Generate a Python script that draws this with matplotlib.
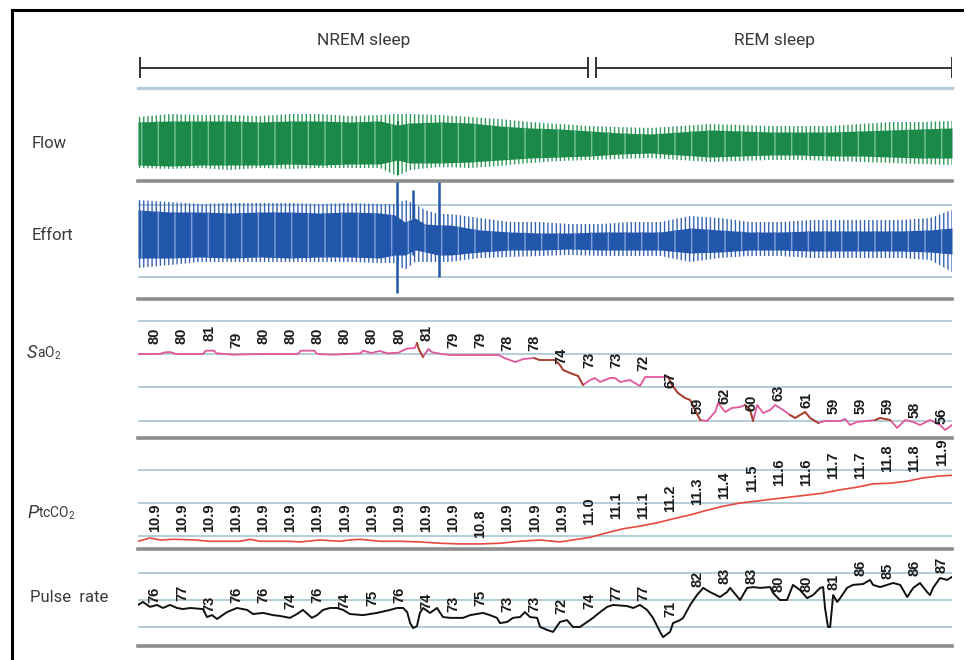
import numpy as np
import matplotlib
matplotlib.use("Agg")
import matplotlib.pyplot as plt
from matplotlib.offsetbox import TextArea, HPacker, AnnotationBbox

# ---------------- data (time in minutes, 0..30) ----------------
stage_names = ["NREM sleep", "REM sleep"]
stage_start = [0.07, 16.88]
stage_end = [16.59, 30.0]

epoch_offset = 0.62  # label times = epoch index + offset

sao2_labels = [80, 80, 81, 79, 80, 80, 80, 80, 80, 80, 81, 79, 79, 78, 78,
               74, 73, 73, 72, 67, 59, 62, 60, 63, 61, 59, 59, 59, 58, 56]
ptcco2_labels = [10.9, 10.9, 10.9, 10.9, 10.9, 10.9, 10.9, 10.9, 10.9, 10.9,
                 10.9, 10.9, 10.8, 10.9, 10.9, 10.9, 11.0, 11.1, 11.1, 11.2,
                 11.3, 11.4, 11.5, 11.6, 11.6, 11.7, 11.7, 11.8, 11.8, 11.9]
pulse_labels = [76, 77, 73, 76, 76, 74, 76, 74, 75, 76, 74, 73, 75, 73, 73,
                72, 74, 77, 77, 71, 82, 83, 83, 80, 80, 81, 86, 85, 86, 87]

sao2_t = [0.00, 0.80, 1.00, 1.18, 1.40, 2.40, 2.50, 2.80, 2.90, 3.50, 4.50, 5.90,
          6.00, 6.50, 6.60, 7.20, 8.20, 8.30, 8.60, 8.90, 9.20, 9.60, 9.90, 10.20,
          10.28, 10.35, 10.50, 10.70, 10.85, 11.20, 11.50, 13.30, 13.50, 13.90,
          14.20, 14.60, 14.80, 15.37, 15.55, 15.67, 15.92, 16.22, 16.40, 16.66,
          16.84, 17.03, 17.21, 17.40, 17.58, 17.77, 18.13, 18.50, 18.69, 19.06,
          19.54, 19.68, 19.90, 20.16, 20.35, 20.53, 20.72, 20.97, 21.27, 21.38,
          21.64, 21.89, 22.19, 22.37, 22.56, 22.67, 22.82, 23.04, 23.30, 23.48,
          23.78, 24.03, 24.22, 24.40, 24.59, 24.77, 25.07, 25.32, 25.88, 26.06,
          26.24, 26.50, 27.17, 27.35, 27.72, 27.98, 28.27, 28.57, 28.82, 29.19,
          29.56, 29.75, 30.00]
sao2_v = [80.0, 80.0, 80.5, 80.6, 80.0, 80.0, 81.0, 81.0, 80.2, 79.8, 80.0, 80.0,
          81.0, 81.0, 80.0, 79.8, 80.2, 81.0, 80.3, 80.9, 80.2, 80.4, 81.6, 81.8,
          83.3, 81.5, 79.1, 81.5, 80.5, 80.0, 79.7, 79.7, 78.8, 77.6,
          78.5, 78.8, 78.2, 78.2, 76.7, 75.2, 74.3, 73.4, 70.7, 72.2,
          72.8, 71.6, 72.2, 72.8, 72.8, 71.6, 72.2, 70.4, 73.1, 73.1,
          73.1, 70.7, 68.3, 66.8, 66.2, 63.2, 60.2, 59.9, 62.6, 65.3,
          62.6, 63.8, 64.1, 64.7, 63.2, 59.9, 64.7, 62.3, 63.2, 64.7,
          63.2, 61.7, 60.8, 61.7, 62.6, 60.8, 59.3, 59.9, 59.9, 60.5,
          58.7, 59.6, 60.2, 60.8, 60.2, 57.8, 60.2, 59.6, 58.7, 60.2,
          58.7, 57.2, 58.7]
sao2_falling = [(10.25, 10.6), (14.4, 16.5), (19.5, 20.8), (22.3, 22.7),
                (23.9, 25.1), (26.9, 27.9)]

ptcco2_t = [0.00, 0.44, 0.81, 1.36, 2.10, 2.65, 3.76, 4.13, 4.50, 5.60, 5.97,
            6.71, 7.44, 7.81, 8.18, 8.92, 9.66, 10.39, 11.13, 11.87, 12.61,
            13.34, 14.08, 14.82, 15.55, 16.03, 16.66, 17.29, 17.88, 18.50,
            19.13, 19.72, 20.35, 20.97, 21.56, 22.19, 22.82, 23.41, 24.03,
            24.66, 25.25, 25.88, 26.50, 27.09, 27.72, 28.34, 28.93, 29.56, 30.00]
ptcco2_v = [10.92, 10.97, 10.94, 10.95, 10.94, 10.92, 10.92, 10.95, 10.92, 10.92,
            10.91, 10.94, 10.92, 10.94, 10.95, 10.92, 10.92, 10.91, 10.89, 10.88,
            10.88, 10.89, 10.92, 10.94, 10.91, 10.94, 10.98, 11.05, 11.11, 11.15,
            11.20, 11.26, 11.32, 11.39, 11.45, 11.50, 11.53, 11.56, 11.59,
            11.62, 11.65, 11.70, 11.74, 11.79, 11.80, 11.83, 11.88, 11.91, 11.92]

pulse_t = [0.00, 0.18, 0.44, 0.70, 0.92, 1.18, 1.44, 1.66, 1.92, 2.40, 2.54, 2.73,
           2.91, 3.28, 3.65, 4.02, 4.24, 4.61, 4.98, 5.23, 5.60, 5.86, 6.08, 6.41,
           6.60, 6.82, 7.08, 7.33, 7.56, 7.81, 8.29, 8.81, 9.29, 9.55, 9.77, 9.92,
           10.03, 10.14, 10.28, 10.39, 10.51, 10.76, 11.02, 11.24, 11.50, 11.98,
           12.24, 12.72, 12.97, 13.23, 13.34, 13.60, 13.82, 14.08, 14.26, 14.45,
           14.71, 14.82, 15.08, 15.30, 15.55, 15.81, 16.03, 16.29, 16.55, 16.77,
           17.03, 17.29, 17.51, 18.02, 18.25, 18.50, 18.76, 18.98, 19.24, 19.35,
           19.61, 19.72, 19.98, 20.09, 20.35, 20.60, 20.83, 21.08, 21.45, 21.71,
           21.82, 22.19, 22.45, 22.67, 22.93, 23.30, 23.41, 23.66, 23.92, 24.14,
           24.29, 24.40, 24.66, 24.88, 25.14, 25.25, 25.32, 25.43, 25.51, 25.62,
           25.77, 25.88, 26.13, 26.35, 26.72, 26.98, 27.09, 27.35, 27.61, 27.83,
           28.09, 28.35, 28.57, 28.82, 29.08, 29.19, 29.30, 29.56, 29.82, 30.00]
pulse_v = [78.2, 79.3, 77.5, 78.2, 77.1, 78.2, 77.1, 76.7, 77.1, 76.7, 73.8, 74.5,
           73.1, 75.6, 77.1, 76.4, 74.9, 75.3, 74.5, 74.2, 73.5, 74.9, 76.4, 73.5,
           74.5, 76.4, 77.1, 77.1, 76.4, 74.9, 74.5, 75.3, 76.4, 77.1, 77.1, 75.6,
           71.6, 69.8, 70.5, 75.3, 77.1, 75.3, 77.1, 73.8, 73.5, 73.5,
           74.5, 75.3, 74.5, 73.5, 71.6, 72.0, 73.5, 73.8, 75.6, 73.8,
           73.5, 70.2, 69.1, 68.4, 72.0, 72.7, 70.2, 70.2, 72.0, 73.5,
           75.6, 77.5, 78.2, 77.8, 77.1, 78.2, 76.4, 73.5, 68.4, 66.5,
           68.4, 71.6, 72.7, 73.5, 78.2, 81.8, 84.4, 82.9, 81.1, 82.9,
           84.4, 80.0, 84.4, 84.7, 84.4, 84.7, 82.5, 80.0, 80.0, 85.5,
           84.4, 83.6, 80.7, 81.8, 84.4, 84.7, 77.1, 70.2, 70.2, 81.8,
           79.3, 80.7, 84.4, 85.5, 85.8, 87.3, 85.5, 84.7, 85.5, 86.2,
           85.5, 81.1, 84.4, 86.2, 82.9, 81.8, 84.4, 88.0, 87.3, 88.4]

# Flow / Effort envelopes (arbitrary units, 0 = baseline)
flow_t = [0.00, 1.18, 2.29, 3.39, 4.50, 5.60, 6.71, 7.81, 8.92, 9.55, 10.03,
          11.13, 12.24, 13.34, 14.45, 15.55, 16.66, 17.77, 18.87, 19.98, 21.08,
          22.19, 23.30, 24.40, 25.51, 26.61, 27.72, 28.82, 30.00]
flow_core_hi = [0.84, 0.88, 0.88, 0.88, 0.84, 0.88, 0.88, 0.84, 0.88, 0.72, 0.80,
                0.84, 0.80, 0.68, 0.60, 0.56, 0.48, 0.40, 0.36, 0.44, 0.52,
                0.48, 0.44, 0.44, 0.44, 0.48, 0.52, 0.56, 0.60]
flow_core_lo = [-0.88, -0.92, -0.88, -0.88, -0.88, -0.84, -0.88, -0.84, -0.84, -0.68, -0.80,
                -0.80, -0.76, -0.68, -0.60, -0.56, -0.52, -0.44, -0.40, -0.48, -0.56,
                -0.52, -0.48, -0.48, -0.52, -0.52, -0.56, -0.60, -0.60]
flow_peak_hi = [1.04, 1.16, 1.12, 1.12, 1.08, 1.16, 1.16, 1.08, 1.12, 1.16, 1.16,
                1.12, 1.04, 0.96, 0.84, 0.76, 0.68, 0.64, 0.60, 0.68, 0.76,
                0.72, 0.68, 0.68, 0.68, 0.76, 0.84, 0.84, 0.88]
flow_peak_lo = [-1.00, -1.04, -1.00, -1.08, -1.00, -1.04, -1.00, -1.00, -1.00, -1.32, -1.08,
                -0.96, -1.00, -0.92, -0.80, -0.72, -0.68, -0.64, -0.60, -0.68, -0.76,
                -0.72, -0.68, -0.68, -0.72, -0.76, -0.80, -0.84, -0.88]

effort_t = [0.00, 1.18, 2.29, 3.39, 4.50, 5.60, 6.71, 7.81, 8.92, 9.47, 9.84,
            10.21, 10.58, 11.06, 11.50, 12.61, 13.71, 14.82, 15.92, 17.03, 18.13,
            19.24, 20.35, 21.45, 22.56, 23.66, 24.77, 25.88, 26.98, 28.09, 29.19, 30.00]
effort_core_hi = [1.20, 1.12, 1.12, 1.08, 1.12, 1.12, 1.08, 1.12, 1.08, 1.00, 0.72,
                  0.88, 0.64, 0.60, 0.60, 0.40, 0.32, 0.28, 0.28, 0.32, 0.32,
                  0.32, 0.48, 0.40, 0.32, 0.32, 0.36, 0.36, 0.36, 0.36, 0.40, 0.48]
effort_core_lo = [-0.72, -0.72, -0.68, -0.72, -0.68, -0.72, -0.68, -0.68, -0.72, -0.60, -0.60,
                  -0.40, -0.48, -0.60, -0.60, -0.48, -0.40, -0.40, -0.36, -0.40, -0.40,
                  -0.40, -0.52, -0.48, -0.40, -0.40, -0.44, -0.44, -0.44, -0.44, -0.48, -0.56]
effort_peak_hi = [1.60, 1.52, 1.44, 1.48, 1.48, 1.48, 1.44, 1.48, 1.44, 1.44, 1.60,
                  1.44, 1.20, 1.04, 1.04, 0.88, 0.72, 0.72, 0.64, 0.64, 0.72,
                  0.72, 0.96, 0.88, 0.72, 0.72, 0.80, 0.80, 0.80, 0.80, 0.88, 1.20]
effort_peak_lo = [-1.12, -1.00, -0.88, -0.88, -0.88, -0.88, -0.88, -0.88, -0.92, -0.92, -1.20,
                  -0.88, -0.88, -0.88, -0.88, -0.72, -0.68, -0.64, -0.60, -0.64, -0.64,
                  -0.64, -0.88, -0.72, -0.64, -0.64, -0.72, -0.72, -0.72, -0.72, -0.80, -1.28]
# isolated large excursions: (time, top, bottom)
effort_spikes = [(9.55, 2.32, -2.12), (10.14, 2.00, -0.60), (11.09, 2.32, -1.48)]
flow_spikes = [(9.59, 0.90, -1.28)]

# ---------------- styling ----------------
W, H = 966, 660
plt.rcParams["mathtext.fontset"] = "custom"
plt.rcParams["mathtext.rm"] = "Roboto"
plt.rcParams["hatch.linewidth"] = 1.0
fig = plt.figure(figsize=(W / 100, H / 100), dpi=100)
fig.patch.set_facecolor("white")

GRID = "#a9c3d2"
DARK = "#8d8d8d"
LABEL_FONT = "Liberation Sans"
NAME_FONT = "Roboto"
TEXT = "#3a3a3a"
XMAX = 30.0


def px_axes(x0, y0, x1, y1):
    ax = fig.add_axes([x0 / W, 1 - y1 / H, (x1 - x0) / W, (y1 - y0) / H])
    ax.set_xlim(0, XMAX)
    ax.set_xticks([])
    ax.set_yticks([])
    ax.patch.set_alpha(0)
    for s in ("left", "right", "top"):
        ax.spines[s].set_visible(False)
    ax.spines["bottom"].set_color(DARK)
    ax.spines["bottom"].set_linewidth(2.6)
    return ax


def band(ax, t, core_lo, core_hi, peak_lo, peak_hi, dark, light, stripe):
    # outer excursions: vertical striped texture
    ax.fill_between(t, peak_lo, peak_hi, facecolor="none", edgecolor=light,
                    hatch="||||", lw=0)
    # dense core with lighter breath stripes
    ax.fill_between(t, core_lo, core_hi, color=dark, lw=0)
    ax.fill_between(t, core_lo, core_hi, facecolor="none", edgecolor=stripe,
                    hatch="|", lw=0)


# frame
fig.add_artist(plt.Line2D([12 / W, 12 / W], [0, 1 - 10 / H], color="black", lw=2.2))
fig.add_artist(plt.Line2D([12 / W, 962 / W], [1 - 10 / H, 1 - 10 / H], color="black", lw=2.2))

# header
axh = fig.add_axes([138 / W, 1 - 88 / H, 814 / W, 76 / H])
axh.set_xlim(0, XMAX)
axh.set_ylim(0, 1)
axh.axis("off")
for name, a, b in zip(stage_names, stage_start, stage_end):
    axh.hlines(0.26, a, b, color="#333333", lw=1.4)
    axh.vlines([a, b], 0.13, 0.41, color="#333333", lw=1.4)
    axh.text((a + b) / 2, 0.63, name, ha="center", va="center",
             fontsize=12.5, family=NAME_FONT, color=TEXT)

# Flow
axf = px_axes(138, 88, 952, 181)
axf.set_ylim(-1.52, 2.2)
axf.spines["top"].set_visible(True)
axf.spines["top"].set_color("#b7cbd8")
axf.spines["top"].set_linewidth(2.4)
band(axf, flow_t, flow_core_lo, flow_core_hi, flow_peak_lo, flow_peak_hi,
     "#1b8a48", "#2f9a5c", "#74c296")
for t, hi, lo in flow_spikes:
    axf.vlines(t, lo, hi, color="#1b8a48", lw=1.6)

# Effort
axe = px_axes(138, 181, 952, 299)
axe.set_ylim(-2.36, 2.36)
for g in (1.4, 0.0, -1.48):
    axe.axhline(g, color=GRID, lw=1.2, zorder=0)
band(axe, effort_t, effort_core_lo, effort_core_hi, effort_peak_lo, effort_peak_hi,
     "#2256aa", "#3563b2", "#7d9ed6")
for t, hi, lo in effort_spikes:
    axe.vlines(t, lo, hi, color="#2256aa", lw=1.8)

epoch_t = np.arange(len(sao2_labels)) + epoch_offset
lab_kw = dict(textcoords="offset points", rotation=90, ha="center", va="bottom",
              fontsize=10.5, family=LABEL_FONT, fontweight="bold", color="#1a1a1a",
              annotation_clip=False)

# SaO2
axs = px_axes(138, 299, 952, 438)
axs.set_ylim(54.8, 96.5)
for g in (90, 80, 70, 60):
    axs.axhline(g, color=GRID, lw=1.2, zorder=0)
st = np.array(sao2_t)
sv = np.array(sao2_v)
axs.plot(st, sv, color="#e2579b", lw=1.3)
for a, b in sao2_falling:
    m = (st >= a) & (st <= b)
    axs.plot(st[m], sv[m], color="#a3462a", lw=1.3)
for t, v in zip(epoch_t, sao2_labels):
    axs.annotate(str(v), xy=(t, v), xytext=(0, 7.0), **lab_kw)

# PtcCO2
axc = px_axes(138, 438, 952, 549)
axc.set_ylim(10.803, 12.485)
for g in (12.0, 11.5, 11.0):
    axc.axhline(g, color=GRID, lw=1.2, zorder=0)
axc.plot(ptcco2_t, ptcco2_v, color="#e8483e", lw=1.2)
for t, v in zip(epoch_t, ptcco2_labels):
    axc.annotate(f"{v:.1f}", xy=(t, v), xytext=(0, 7.8), clip_on=True, **lab_kw)

# Pulse rate
axp = px_axes(138, 549, 952, 646)
axp.set_ylim(63.27, 98.55)
for g in (90, 80, 70):
    axp.axhline(g, color=GRID, lw=1.2, zorder=0)
axp.plot(pulse_t, pulse_v, color="#111111", lw=1.4)
for t, v in zip(epoch_t, pulse_labels):
    axp.annotate(str(v), xy=(t, v), xytext=(0, 5.5), **lab_kw)

# channel names
name_kw = dict(fontsize=12, family=NAME_FONT, color=TEXT, va="center", ha="left")
fig.text(32 / W, 1 - 143 / H, "Flow", **name_kw)
fig.text(32 / W, 1 - 235 / H, "Effort", **name_kw)
fig.text(30 / W, 1 - 598 / H, "Pulse  rate", **name_kw)


def composite(big, small, ypx):
    parts = [TextArea(big, textprops=dict(fontsize=13, family=NAME_FONT, style="italic",
                                          color=TEXT)),
             TextArea(small, textprops=dict(fontsize=10, family=NAME_FONT, color=TEXT))]
    box = HPacker(children=parts, align="baseline", pad=0, sep=0)
    ab = AnnotationBbox(box, (27, H - ypx), xycoords="figure pixels",
                        box_alignment=(0, 0.5), frameon=False)
    fig.add_artist(ab)


composite("S", r"aO$_2$", 353)
composite("P", r"tcCO$_2$", 513)

fig.savefig("out.png", dpi=100, facecolor="white")
